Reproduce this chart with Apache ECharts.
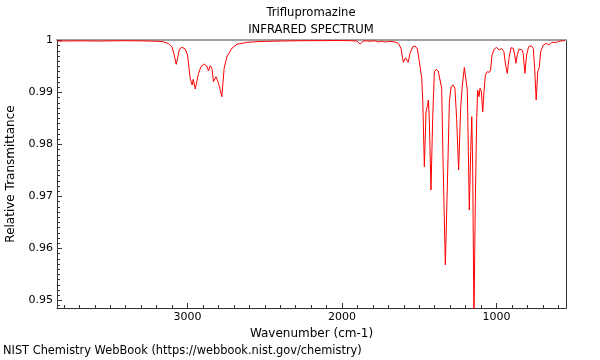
<!DOCTYPE html>
<html>
<head>
<meta charset="utf-8">
<script src="https://cdn.jsdelivr.net/npm/echarts@6/dist/echarts.min.js"></script>
<style>html,body{margin:0;padding:0;background:#fff}#c{width:600px;height:360px}</style>
</head>
<body>
<div id="c"></div>
<script>
const wavenumbers = [3843,3694,3565,3435,3306,3209,3157,3125,3101,3086,3073,3060,3052,3036,3015,3000,2983,2970,2963,2950,2929,2913,2892,2875,2864,2853,2842,2832,2816,2799,2778,2763,2745,2713,2680,2616,2530,2400,2271,2142,2011,1937,1926,1904,1883,1862,1840,1818,1786,1765,1743,1721,1689,1657,1635,1618,1603,1588,1571,1560,1542,1527,1512,1499,1484,1477,1467,1456,1448,1441,1435,1424,1413,1402,1391,1377,1366,1355,1345,1331,1318,1305,1294,1280,1269,1258,1245,1232,1221,1208,1199,1189,1182,1176,1167,1160,1154,1146,1137,1128,1122,1113,1107,1098,1089,1081,1072,1060,1047,1038,1029,1014,999,982,967,952,941,930,919,906,891,882,874,866,853,835,827,816,805,792,775,762,753,743,733,723,714,697,675,661,643,611,589,557];
const transmittance = [0.9999,0.99994,0.9999,0.99996,0.99994,0.99987,0.99977,0.99942,0.99881,0.99721,0.99542,0.99721,0.99837,0.99869,0.99837,0.99721,0.99273,0.99144,0.99254,0.99067,0.99369,0.99496,0.99548,0.9951,0.99413,0.99515,0.99465,0.99208,0.99304,0.99177,0.98919,0.99465,0.99688,0.9985,0.99927,0.99965,0.99981,0.9999,0.99996,0.99998,1.0,0.99996,0.99987,0.9999,0.99933,0.99987,0.99994,0.99987,0.99994,0.99971,0.99987,0.99971,0.99985,0.99971,0.99946,0.9985,0.99581,0.99669,0.99581,0.99754,0.99881,0.99894,0.99837,0.99592,0.99273,0.98823,0.97573,0.98631,0.98727,0.98856,0.98504,0.97125,0.98504,0.994,0.99446,0.99413,0.99433,0.99081,0.97542,0.95683,0.97221,0.98823,0.99112,0.99144,0.99081,0.98504,0.9751,0.98696,0.99144,0.99481,0.99465,0.99048,0.97862,0.9674,0.97862,0.98535,0.97548,0.946,0.969,0.98504,0.99048,0.98919,0.99081,0.99015,0.98631,0.99015,0.99337,0.994,0.99388,0.99433,0.99721,0.99837,0.99869,0.99817,0.9985,0.99785,0.99529,0.99369,0.99658,0.99862,0.9985,0.99721,0.99562,0.99721,0.99837,0.99817,0.99754,0.99369,0.99721,0.99881,0.999,0.9985,0.99465,0.98856,0.994,0.99477,0.99785,0.99913,0.99946,0.99913,0.99965,0.99965,0.9999,1.0];
const titleText = 'Triflupromazine';
const subtitleText = 'INFRARED SPECTRUM';
const xName = 'Wavenumber (cm-1)';
const yName = 'Relative Transmittance';
const footer = 'NIST Chemistry WebBook (https://webbook.nist.gov/chemistry)';

const FONT = 'DejaVu Sans';
const chart = echarts.init(document.getElementById('c'), null, {renderer: 'canvas'});
const seriesData = wavenumbers.map((w, i) => [w, transmittance[i]]);
chart.setOption({
  animation: false,
  backgroundColor: '#fff',
  title: [
    {text: titleText, left: 311, top: 7, padding: 0, textAlign: 'center', textStyle: {fontFamily: FONT, fontSize: 11.6, fontWeight: 'normal', color: '#000'}},
    {text: subtitleText, left: 311, top: 24, padding: 0, textAlign: 'center', textStyle: {fontFamily: FONT, fontSize: 11.6, fontWeight: 'normal', color: '#000'}},
    {text: footer, left: 3, top: 346, padding: 0, textStyle: {fontFamily: FONT, fontSize: 11.4, fontWeight: 'normal', color: '#000'}}
  ],
  grid: {left: 57, right: 34, top: 40, bottom: 52, containLabel: false, outerBoundsMode: 'none'},
  xAxis: [{
    type: 'value', inverse: true, min: 550, max: 3845,
    minInterval: 1000, maxInterval: 1000,
    name: xName, nameLocation: 'middle', nameGap: 20,
    nameTextStyle: {fontFamily: FONT, fontSize: 12, color: '#000'},
    axisLine: {show: true, lineStyle: {color: '#333', width: 1}},
    axisTick: {show: true, inside: true, length: 5, lineStyle: {color: '#333'}},
    minorTick: {show: true, splitNumber: 10, length: 3, lineStyle: {color: '#333'}},
    axisLabel: {fontFamily: FONT, fontSize: 11, color: '#000', margin: 4,
      formatter: v => (Math.abs(v % 1000) < 1e-6 ? String(v) : '')},
    splitLine: {show: false}, minorSplitLine: {show: false}
  }, {
    type: 'value', position: 'top', min: 550, max: 3845, inverse: true,
    axisLine: {show: true, lineStyle: {color: '#a0a0a0', width: 2}},
    axisTick: {show: false}, axisLabel: {show: false}, splitLine: {show: false}
  }],
  yAxis: [{
    type: 'value', min: 0.94856, max: 1.0001,
    minInterval: 0.01, maxInterval: 0.01,
    name: yName, nameLocation: 'middle', nameGap: 40,
    nameTextStyle: {fontFamily: FONT, fontSize: 12, color: '#000'},
    axisLine: {show: true, lineStyle: {color: '#333', width: 1}},
    axisTick: {show: true, inside: true, length: 5, lineStyle: {color: '#333'}},
    minorTick: {show: true, splitNumber: 10, length: 3, lineStyle: {color: '#333'}},
    axisLabel: {fontFamily: FONT, fontSize: 11, color: '#000', margin: 4,
      formatter: v => {
        const r = Math.round(v * 100);
        if (Math.abs(v * 100 - r) > 1e-6) return '';
        return r === 100 ? '1' : (r / 100).toFixed(2);
      }},
    splitLine: {show: false}, minorSplitLine: {show: false}
  }, {
    type: 'value', position: 'right', min: 0.94856, max: 1.0001,
    axisLine: {show: true, lineStyle: {color: '#333', width: 1}},
    axisTick: {show: false}, axisLabel: {show: false}, splitLine: {show: false}
  }],
  series: [{
    type: 'line', xAxisIndex: 0, yAxisIndex: 0, data: seriesData,
    showSymbol: false, symbol: 'none', clip: true,
    lineStyle: {color: '#ff0000', width: 1},
    z: 1
  }]
});
</script>
</body>
</html>
